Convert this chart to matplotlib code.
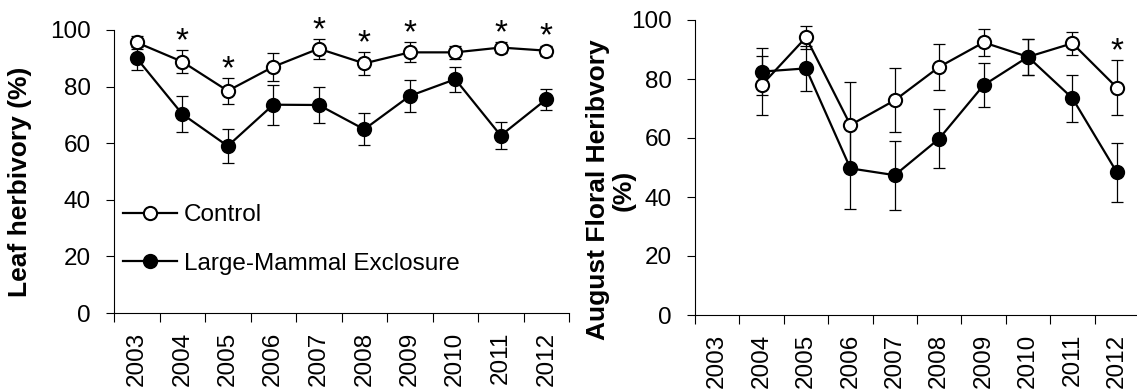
import numpy as np
import matplotlib
matplotlib.use('Agg')
import matplotlib.pyplot as plt

plt.rcParams['font.family'] = ['Liberation Sans', 'DejaVu Sans']

# Years sampled
years = ['2003', '2004', '2005', '2006', '2007', '2008', '2009', '2010', '2011', '2012']

# Leaf herbivory (%) - mean and SE
leaf_control = [95.6, 88.8, 78.5, 87.0, 93.4, 88.2, 92.1, 92.1, 93.8, 92.7]
leaf_control_se = [2.3, 4.0, 4.5, 5.0, 3.5, 4.0, 3.5, 2.2, 2.0, 1.8]
leaf_excl = [90.0, 70.3, 59.0, 73.6, 73.5, 64.9, 76.7, 82.6, 62.7, 75.5]
leaf_excl_se = [4.0, 6.5, 6.0, 7.0, 6.2, 5.6, 5.8, 4.4, 4.8, 3.7]
leaf_sig = [False, True, True, False, True, True, True, False, True, True]

# August floral herbivory (%) - no data for 2003
floral_control = [np.nan, 77.9, 94.1, 64.4, 72.8, 84.1, 92.4, 87.5, 92.1, 77.1]
floral_control_se = [np.nan, 10.0, 4.0, 14.7, 10.8, 7.7, 4.5, 6.0, 4.0, 9.2]
floral_excl = [np.nan, 82.5, 83.6, 49.7, 47.4, 59.8, 77.9, 87.5, 73.5, 48.4]
floral_excl_se = [np.nan, 8.0, 7.5, 13.7, 11.7, 10.0, 7.5, 6.0, 8.0, 10.0]
floral_sig = [False, False, False, False, False, False, False, False, False, True]

FS = 17.5
LABEL_FS = 19
W, H = 1137, 392

fig = plt.figure(figsize=(W / 100, H / 100), dpi=100)
ax1 = fig.add_axes([114 / W, 1 - 313 / H, 455 / W, 283 / H])
ax2 = fig.add_axes([695 / W, 1 - 315 / H, 444 / W, 295 / H])

x = np.arange(len(years))


def draw_panel(ax, ctrl, ctrl_se, excl, excl_se, sig):
    ctrl = np.array(ctrl)
    ctrl_se = np.array(ctrl_se)
    excl = np.array(excl)
    excl_se = np.array(excl_se)
    ax.errorbar(x, ctrl, yerr=ctrl_se, fmt='none', ecolor='black',
                elinewidth=0.9, capsize=4.3, capthick=0.9, zorder=2)
    ax.errorbar(x, excl, yerr=excl_se, fmt='none', ecolor='black',
                elinewidth=0.9, capsize=4.3, capthick=0.9, zorder=2)
    ax.plot(x, ctrl, '-o', color='black', lw=1.6, ms=9.5, mew=1.5,
            mfc='white', mec='black', label='Control', zorder=3)
    ax.plot(x, excl, '-o', color='black', lw=1.6, ms=9.5, mew=1.5,
            mfc='black', mec='black', label='Large-Mammal Exclosure', zorder=4)
    # asterisks above the control error bars
    for i, s in enumerate(sig):
        if s:
            ax.text(x[i], ctrl[i] + ctrl_se[i], '*', ha='center', va='baseline',
                    fontsize=24, clip_on=False)

    ax.set_xlim(-0.5, len(years) - 0.5)
    ax.set_ylim(0, 100)
    ax.set_yticks([0, 20, 40, 60, 80, 100])
    ax.set_xticks(np.arange(-0.5, len(years), 1))
    ax.set_xticklabels([])
    ax.set_xticks(x, minor=True)
    ax.set_xticklabels(years, minor=True, rotation=90)
    ax.tick_params(axis='x', which='major', direction='out', length=6.5, width=0.8)
    ax.tick_params(axis='x', which='minor', length=0, pad=13.5, labelsize=FS)
    ax.tick_params(axis='y', direction='out', length=5.8, width=0.8, pad=11, labelsize=FS)
    for side in ['top', 'right']:
        ax.spines[side].set_visible(False)
    for side in ['left', 'bottom']:
        ax.spines[side].set_linewidth(0.8)


draw_panel(ax1, leaf_control, leaf_control_se, leaf_excl, leaf_excl_se, leaf_sig)
draw_panel(ax2, floral_control, floral_control_se, floral_excl, floral_excl_se, floral_sig)

ax1.legend(loc='center left', bbox_to_anchor=(0.02, 0.26), frameon=False,
           fontsize=FS, handlelength=2.2, handletextpad=0.3, labelspacing=1.1,
           borderpad=0, borderaxespad=0)

fig.text(20 / W, 1 - 182 / H, 'Leaf herbivory (%)', rotation=90, ha='center',
         va='center', fontsize=LABEL_FS, fontweight='bold')
fig.text(611 / W, 1 - 190 / H, 'August Floral Heribvory\n(%)', rotation=90,
         ha='center', va='center', ma='center', fontsize=LABEL_FS, fontweight='bold',
         linespacing=1.1)

fig.savefig('out.png', dpi=100)
